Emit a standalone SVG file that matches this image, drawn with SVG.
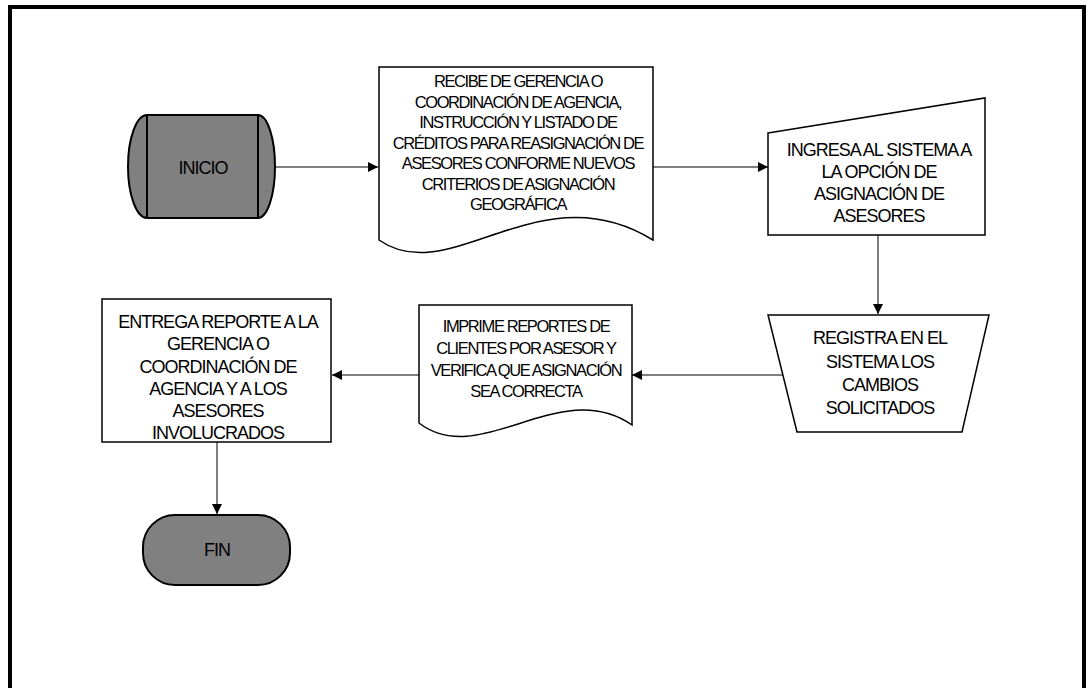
<svg xmlns="http://www.w3.org/2000/svg" width="1091" height="688" viewBox="0 0 1091 688">
  <style>
    .shape { fill: #ffffff; stroke: #000000; stroke-width: 1.5; }
    .term { fill: #808080; stroke: #000000; stroke-width: 2; }
    .lbl { font-family: "Liberation Sans", Arial, sans-serif; font-size: 18px; letter-spacing: -1px; fill: #000000; text-anchor: middle; }
    .doc { font-size: 16.5px; letter-spacing: -1.4px; }
    .edge { fill: none; stroke: #000000; stroke-width: 1; marker-end: url(#arrow); }
  </style>
  <defs>
    <marker id="arrow" viewBox="0 0 10 10" refX="10" refY="5" markerWidth="10" markerHeight="11" markerUnits="userSpaceOnUse" orient="auto">
      <path d="M0,0 L10,5 L0,10 Z" fill="#000000"/>
    </marker>
  </defs>

  <rect x="0" y="0" width="1091" height="688" fill="#ffffff"/>
  <!-- page frame -->
  <rect id="frame" x="10" y="7" width="1074" height="700" fill="none" stroke="#000000" stroke-width="4"/>

  <g id="connectors">
    <line class="edge" x1="275" y1="167" x2="378" y2="167"/>
    <line class="edge" x1="653" y1="167" x2="768" y2="167"/>
    <line class="edge" x1="878" y1="235" x2="878" y2="314"/>
    <line class="edge" x1="783" y1="375" x2="632" y2="375"/>
    <line class="edge" x1="419" y1="375" x2="332" y2="375"/>
    <line class="edge" x1="217" y1="442" x2="217" y2="514"/>
  </g>

  <g id="inicio">
    <path class="term" d="M147,115 L258,115 A17,51.5 0 0 1 258,218 L147,218 A19,51.5 0 0 1 147,115 Z"/>
    <line x1="147" y1="115" x2="147" y2="218" stroke="#000" stroke-width="2"/>
    <line x1="258" y1="115" x2="258" y2="218" stroke="#000" stroke-width="2"/>
    <text class="lbl" x="203" y="173.5">INICIO</text>
  </g>

  <g id="recibe">
    <path class="shape" d="M379,67 L653,67 L653,240 C540,170 450,290 379,240 Z"/>
    <text class="lbl doc" x="518" y="87">RECIBE DE GERENCIA O</text>
    <text class="lbl doc" x="518" y="107.5">COORDINACIÓN DE AGENCIA,</text>
    <text class="lbl doc" x="518" y="128">INSTRUCCIÓN Y LISTADO DE</text>
    <text class="lbl doc" x="518" y="148.5">CRÉDITOS PARA REASIGNACIÓN DE</text>
    <text class="lbl doc" x="518" y="169">ASESORES CONFORME NUEVOS</text>
    <text class="lbl doc" x="518" y="189.5">CRITERIOS DE ASIGNACIÓN</text>
    <text class="lbl doc" x="518" y="210">GEOGRÁFICA</text>
  </g>

  <g id="ingresa">
    <path class="shape" d="M768,133 L985,98 L985,235 L768,235 Z"/>
    <text class="lbl" x="879" y="156">INGRESA AL SISTEMA A</text>
    <text class="lbl" x="879" y="178">LA OPCIÓN DE</text>
    <text class="lbl" x="879" y="200">ASIGNACIÓN DE</text>
    <text class="lbl" x="879" y="222">ASESORES</text>
  </g>

  <g id="registra">
    <path class="shape" d="M768,315 L989,315 L962,432 L797,432 Z"/>
    <text class="lbl" x="880" y="344">REGISTRA EN EL</text>
    <text class="lbl" x="880" y="367.5">SISTEMA LOS</text>
    <text class="lbl" x="880" y="391">CAMBIOS</text>
    <text class="lbl" x="880" y="414">SOLICITADOS</text>
  </g>

  <g id="imprime">
    <path class="shape" d="M419,305 L632,305 L632,425 C560,375 480,470 419,423 Z"/>
    <text class="lbl doc" x="526" y="332">IMPRIME REPORTES DE</text>
    <text class="lbl doc" x="526" y="354">CLIENTES POR ASESOR Y</text>
    <text class="lbl doc" x="526" y="375.5">VERIFICA QUE ASIGNACIÓN</text>
    <text class="lbl doc" x="526" y="397">SEA CORRECTA</text>
  </g>

  <g id="entrega">
    <rect class="shape" x="102" y="299" width="229" height="143"/>
    <text class="lbl" x="218" y="328">ENTREGA REPORTE A LA</text>
    <text class="lbl" x="218" y="350.3">GERENCIA O</text>
    <text class="lbl" x="218" y="372.6">COORDINACIÓN DE</text>
    <text class="lbl" x="218" y="394.9">AGENCIA Y A LOS</text>
    <text class="lbl" x="218" y="417.2">ASESORES</text>
    <text class="lbl" x="218" y="439">INVOLUCRADOS</text>
  </g>

  <g id="fin">
    <rect class="term" x="143" y="515" width="147" height="70" rx="32" ry="32"/>
    <text class="lbl" x="217" y="556">FIN</text>
  </g>
</svg>
